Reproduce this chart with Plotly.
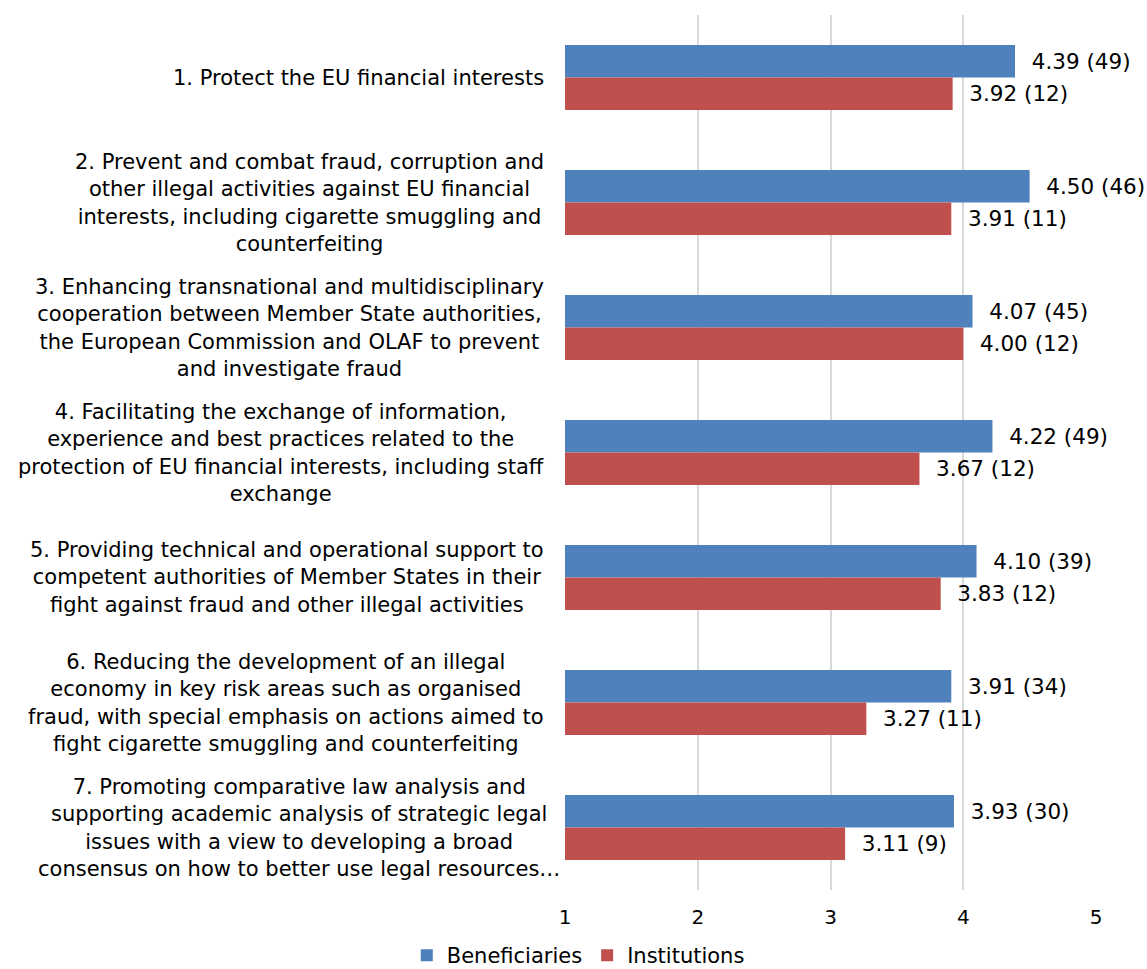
import plotly.graph_objects as go

categories = [
    "1. Protect the EU financial interests",
    "2. Prevent and combat fraud, corruption and<br>other illegal activities against EU financial<br>interests, including cigarette smuggling and<br>counterfeiting",
    "3. Enhancing transnational and multidisciplinary<br>cooperation between Member State authorities,<br>the European Commission and OLAF to prevent<br>and investigate fraud",
    "4. Facilitating the exchange of information,<br>experience and best practices related to the<br>protection of EU financial interests, including staff<br>exchange",
    "5. Providing technical and operational support to<br>competent authorities of Member States in their<br>fight against fraud and other illegal activities",
    "6. Reducing the development of an illegal<br>economy in key risk areas such as organised<br>fraud, with special emphasis on actions aimed to<br>fight cigarette smuggling and counterfeiting",
    "7. Promoting comparative law analysis and<br>supporting academic analysis of strategic legal<br>issues with a view to developing a broad<br>consensus on how to better use legal resources…",
]
beneficiaries = [4.39, 4.50, 4.07, 4.22, 4.10, 3.91, 3.93]
beneficiaries_n = [49, 46, 45, 49, 39, 34, 30]
institutions = [3.92, 3.91, 4.00, 3.67, 3.83, 3.27, 3.11]
institutions_n = [12, 11, 12, 12, 12, 11, 9]
x_ticks = [1, 2, 3, 4, 5]

FONT = "DejaVu Sans"
ycats = [f"c{i}" for i in range(len(categories))]

fig = go.Figure()
fig.add_trace(go.Bar(
    y=ycats, x=[v - 1 for v in beneficiaries], base=1, orientation="h",
    name="Beneficiaries", marker=dict(color="#4f81bd", line=dict(width=0)),
    text=[f"  {v:.2f} ({n})" for v, n in zip(beneficiaries, beneficiaries_n)],
    textposition="outside", textfont=dict(family=FONT, size=21.5, color="#000000"),
    cliponaxis=False, hoverinfo="skip",
))
fig.add_trace(go.Bar(
    y=ycats, x=[v - 1 for v in institutions], base=1, orientation="h",
    name="Institutions", marker=dict(color="#c0504d", line=dict(width=0)),
    text=[f"  {v:.2f} ({n})" for v, n in zip(institutions, institutions_n)],
    textposition="outside", textfont=dict(family=FONT, size=21.5, color="#000000"),
    cliponaxis=False, hoverinfo="skip",
))

for i, (c, yc) in enumerate(zip(categories, ycats)):
    fig.add_annotation(
        x=-0.035 if i < 6 else -0.006, xref="paper", xanchor="right",
        y=yc, yref="y", yanchor="middle",
        text=c, align="center", showarrow=False,
        font=dict(family=FONT, size=21, color="#000000"),
    )

fig.update_layout(
    width=1147, height=969,
    margin=dict(l=565, r=51, t=15, b=79, autoexpand=False),
    paper_bgcolor="white", plot_bgcolor="white",
    barmode="group", bargap=0.48, bargroupgap=0,
    font=dict(family=FONT, size=21, color="#000000"),
    legend=dict(orientation="h", x=0.025, xanchor="center",
                y=-0.075, yanchor="middle", font=dict(family=FONT, size=21)),
    showlegend=True,
)
fig.update_xaxes(range=[1, 5], tickvals=x_ticks, ticklabelstandoff=13,
                 showgrid=True, gridcolor="#d9d9d9", gridwidth=1.5, zeroline=False,
                 showline=False, ticks="", tickfont=dict(family=FONT, size=20))
fig.update_yaxes(autorange="reversed", showticklabels=False, showgrid=False,
                 zeroline=False, showline=False, ticks="")

fig.write_html(
    "out.html",
    config={"displayModeBar": False},
    post_script="document.body.style.margin='0';document.body.style.overflow='hidden';",
)
